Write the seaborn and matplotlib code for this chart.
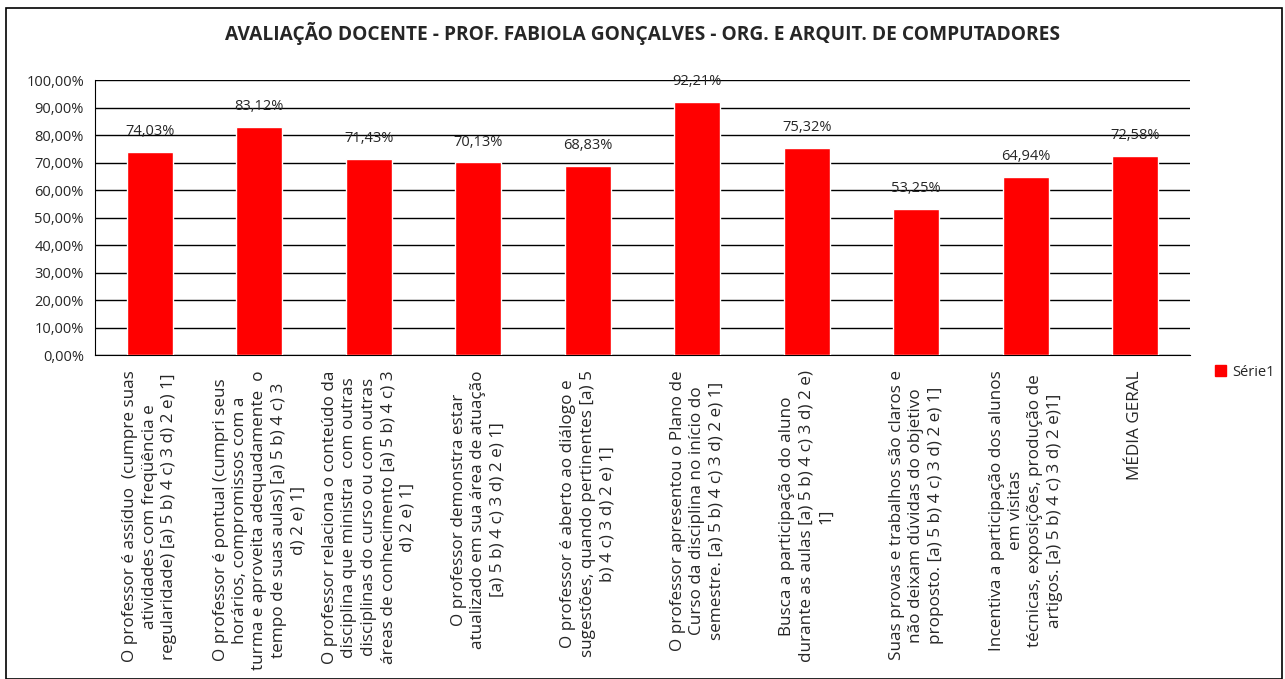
import matplotlib
matplotlib.use("Agg")
import matplotlib.pyplot as plt
import matplotlib.patches as mpatches
from matplotlib.ticker import FuncFormatter
import seaborn as sns
import pandas as pd

# data
perguntas = [
    "O professor é assíduo  (cumpre suas\natividades com freqüência e\nregularidade) [a) 5 b) 4 c) 3 d) 2 e) 1]",
    "O professor é pontual (cumpri seus\nhorários, compromissos com a\nturma e aproveita adequadamente  o\ntempo de suas aulas) [a) 5 b) 4 c) 3\nd) 2 e) 1]",
    "O professor relaciona o conteúdo da\ndisciplina que ministra  com outras\ndisciplinas do curso ou com outras\náreas de conhecimento [a) 5 b) 4 c) 3\nd) 2 e) 1]",
    "O professor demonstra estar\natualizado em sua área de atuação\n[a) 5 b) 4 c) 3 d) 2 e) 1]",
    "O professor é aberto ao diálogo e\nsugestões, quando pertinentes [a) 5\nb) 4 c) 3 d) 2 e) 1]",
    "O professor apresentou o Plano de\nCurso da disciplina no início do\nsemestre. [a) 5 b) 4 c) 3 d) 2 e) 1]",
    "Busca a participação do aluno\ndurante as aulas [a) 5 b) 4 c) 3 d) 2 e)\n1]",
    "Suas provas e trabalhos são claros e\nnão deixam dúvidas do objetivo\nproposto. [a) 5 b) 4 c) 3 d) 2 e) 1]",
    "Incentiva a participação dos alunos\nem visitas\ntécnicas, exposições, produção de\nartigos. [a) 5 b) 4 c) 3 d) 2 e)1]",
    "MÉDIA GERAL",
]
valores = [74.03, 83.12, 71.43, 70.13, 68.83, 92.21, 75.32, 53.25, 64.94, 72.58]
serie = "Série1"
titulo = "AVALIAÇÃO DOCENTE - PROF. FABIOLA GONÇALVES - ORG. E ARQUIT. DE COMPUTADORES"

df = pd.DataFrame({"pergunta": perguntas, "valor": valores})

sns.set_style("white")
plt.rcParams["font.family"] = ["Open Sans", "DejaVu Sans"]

fig = plt.figure(figsize=(12.85, 6.79), dpi=100)
ax = fig.add_axes([0.074, 0.477, 0.852, 0.405])

sns.barplot(data=df, x="pergunta", y="valor", color="#ff0000", saturation=1,
            width=0.42, ax=ax, zorder=3)

ax.set_ylim(0, 100)
ax.set_yticks(range(0, 101, 10))
ax.yaxis.set_major_formatter(FuncFormatter(lambda v, p: f"{v:.2f}%".replace(".", ",")))
ax.grid(axis="y", color="black", linewidth=1, zorder=0)
ax.set_axisbelow(True)
ax.set_xlabel("")
ax.set_ylabel("")
for s in ["top", "right"]:
    ax.spines[s].set_visible(False)
ax.spines["left"].set_color("black")
ax.spines["bottom"].set_color("black")
ax.tick_params(axis="y", labelsize=10.5, length=0, pad=8)
ax.tick_params(axis="x", length=0, pad=11)
ax.set_xticks(range(len(perguntas)))
ax.set_xticklabels(perguntas, rotation=90, ha="center", va="top",
                   multialignment="center", fontsize=12.3, linespacing=1.28)

ax.bar_label(ax.containers[0],
             labels=[f"{v:.2f}%".replace(".", ",") for v in valores],
             padding=9, fontsize=10.5)

fig.suptitle(titulo, x=0.5, y=0.968, fontsize=13.8, fontweight="bold")

handle = mpatches.Patch(color="#ff0000", label=serie)
fig.legend(handles=[handle], loc="center left", bbox_to_anchor=(0.935, 0.452),
           frameon=False, fontsize=10.5, handlelength=0.8, handleheight=0.8,
           handletextpad=0.4)

fig.patches.append(mpatches.Rectangle((0.005, 0.0), 0.993, 0.988,
                                      transform=fig.transFigure, fill=False,
                                      edgecolor="black", linewidth=1.2))

fig.savefig("out.png", dpi=100)
